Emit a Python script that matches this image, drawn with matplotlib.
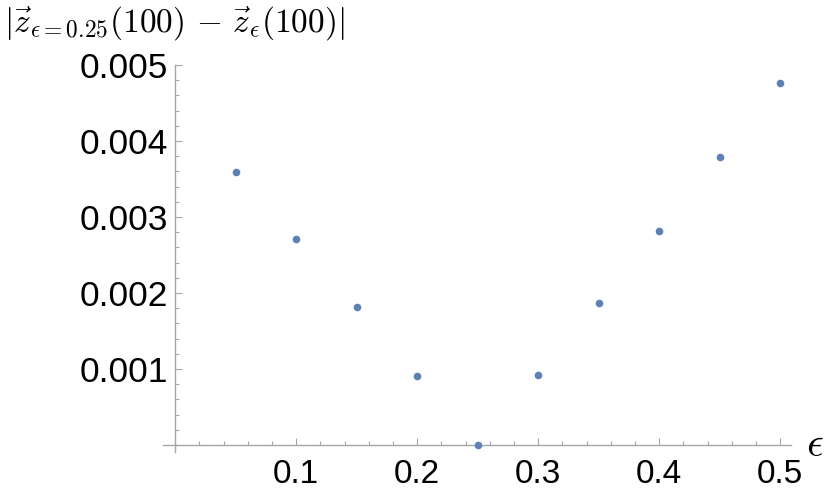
import matplotlib
matplotlib.use("Agg")
import matplotlib.pyplot as plt
from matplotlib.ticker import MultipleLocator, FixedLocator

plt.rcParams['font.family'] = ['Liberation Sans', 'DejaVu Sans']
plt.rcParams['mathtext.fontset'] = 'cm'

# data
eps = [0.05, 0.10, 0.15, 0.20, 0.25, 0.30, 0.35, 0.40, 0.45, 0.50]
diff = [0.003592, 0.00271, 0.001816, 0.000908, 0.0, 0.000921, 0.001868, 0.002816, 0.00379, 0.00476]
xticks = [0.1, 0.2, 0.3, 0.4, 0.5]
xtick_labels = ['0.1', '0.2', '0.3', '0.4', '0.5']
yticks = [0.001, 0.002, 0.003, 0.004, 0.005]
ytick_labels = ['0.001', '0.002', '0.003', '0.004', '0.005']

axis_col = '#a6a6a6'
pt_col = '#5e81b5'

fig = plt.figure(figsize=(8.3, 4.96), dpi=100)
ax = fig.add_axes([163 / 830, 44 / 496, (791 - 163) / 830, (452 - 65) / 496])

ax.plot(eps, diff, 'o', color=pt_col, ms=5.5, mec='none', clip_on=False, zorder=3)

ax.set_xlim(-0.01, 0.509)
ax.set_ylim(-0.0000921, 0.005)

for s in ['top', 'right']:
    ax.spines[s].set_visible(False)
for s in ['left', 'bottom']:
    ax.spines[s].set_position(('data', 0))
    ax.spines[s].set_color(axis_col)
    ax.spines[s].set_linewidth(1.0)

ax.xaxis.set_major_locator(FixedLocator(xticks))
ax.xaxis.set_minor_locator(MultipleLocator(0.02))
ax.yaxis.set_major_locator(FixedLocator(yticks))
ax.yaxis.set_minor_locator(MultipleLocator(0.0002))
ax.set_xticklabels(xtick_labels)
ax.set_yticklabels(ytick_labels)

ax.tick_params(which='both', direction='in', color=axis_col, width=0.8)
ax.tick_params(which='major', length=5)
ax.tick_params(which='minor', length=2.8)
ax.tick_params(axis='x', which='major', labelsize=24, pad=10)
ax.tick_params(axis='y', which='major', labelsize=25.5, pad=5)

fig.text(4 / 830, 1 - 23 / 496, r'$|\vec{z}_{\epsilon=0.25}(100)\,-\,\vec{z}_{\epsilon}(100)|$',
         fontsize=24, ha='left', va='center')
fig.text(806 / 830, 1 - 445 / 496, r'$\epsilon$', fontsize=30, ha='left', va='center')

fig.savefig('out.png', dpi=100)
